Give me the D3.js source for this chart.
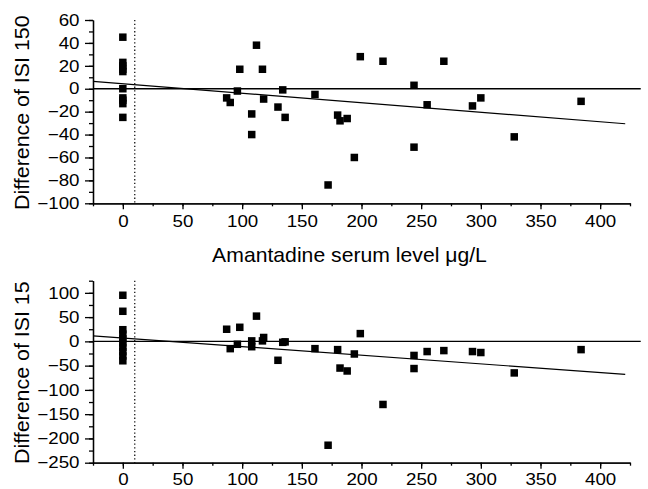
<!DOCTYPE html>
<html lang="en">
<head>
  <meta charset="UTF-8" />
  <title>ISI difference vs amantadine serum level</title>
  <style>
    body {
      margin: 0;
      background: #fff;
      font-family: 'Liberation Sans', Arial, sans-serif;
    }
    svg { display: block; }
    .axis path, .axis line { stroke: #000; stroke-width: 1.3; }
    .axis text { font-family: 'Liberation Sans', Arial, sans-serif; font-size: 16.3px; fill: #000; }
    .title { font-size: 20px; fill: #000; }
  </style>
</head>
<body>
  <svg id="chart" width="648" height="489"></svg>

  <script src="https://d3js.org/d3.v7.min.js"></script>
  <script>
    // serum level (x) shared by both panels, μg/L
    const serumLevel = [0, 0, 0, 0, 0, 0, 0, 0, 0, 0,
      87, 90, 96, 98, 108, 108, 112, 117, 118, 130, 134, 136, 161, 172,
      180, 182, 188, 194, 199, 218, 244, 244, 255, 269, 293, 300, 328, 384];

    // difference of ISI 150
    const isi150Diff = [45, 23, 20, 17, 15, 0, -8, -10, -13, -25,
      -8, -12, -2, 17, -22, -40, 38, 17, -9, -16, -1, -25, -5, -84,
      -23, -28, -26, -60, 28, 24, 3, -51, -14, 24, -15, -8, -42, -11];

    // difference of ISI 15
    const isi15Diff = [95, 62, 24, 15, 5, -3, -12, -21, -30, -40,
      25, -15, -6, 29, 1, -11, 52, 1, 8, -39, -2, -1, -15, -214,
      -17, -55, -61, -26, 16, -130, -29, -56, -21, -19, -21, -23, -65, -17];

    // regression lines: [intercept, slope]
    const fit150 = [4.4, -0.083];
    const fit15 = [7.0, -0.178];
    const fitRange = [-25, 421];

    const cutoffLevel = 10;   // dotted vertical line
    const xTicks = [0, 50, 100, 150, 200, 250, 300, 350, 400];
    const yTicks150 = [-100, -80, -60, -40, -20, 0, 20, 40, 60];
    const yTicks15 = [-250, -200, -150, -100, -50, 0, 50, 100];

    const svg = d3.select("#chart");
    const stretch = 1.15;   // the original lettering is a bit wide

    const x = d3.scaleLinear().domain([-25, 425]).range([93, 630]);

    const panels = [
      { values: isi150Diff, fit: fit150, label: "Difference of ISI 150",
        domain: [-100, 60], range: [203.3, 20], ticks: yTicks150, minorStep: 10, pad: 6 },
      { values: isi15Diff, fit: fit15, label: "Difference of ISI 15",
        domain: [-250, 125], range: [462.7, 280.7], ticks: yTicks15, minorStep: 25, pad: 5 }
    ];

    const xMinor = d3.range(-25, 426, 25);

    panels.forEach(p => {
      const y = d3.scaleLinear().domain(p.domain).range(p.range);
      const g = svg.append("g");
      const yBottom = p.range[0];

      // minor ticks first, then the major axis on top
      g.append("g")
        .attr("class", "axis")
        .attr("transform", `translate(0,${yBottom})`)
        .call(d3.axisBottom(x).tickValues(xMinor).tickSize(3).tickSizeOuter(0).tickFormat(""));
      g.append("g")
        .attr("class", "axis")
        .attr("transform", `translate(0,${yBottom})`)
        .call(d3.axisBottom(x).tickValues(xTicks).tickSize(6).tickPadding(p.pad).tickSizeOuter(0))
        .selectAll("text")
        .attr("transform", `scale(${stretch},1)`);

      const yMinor = d3.range(p.domain[0], p.domain[1] + 0.1, p.minorStep);
      g.append("g")
        .attr("class", "axis")
        .attr("transform", `translate(${x(-25)},0)`)
        .call(d3.axisLeft(y).tickValues(yMinor).tickSize(4).tickSizeOuter(0).tickFormat(""));
      g.append("g")
        .attr("class", "axis")
        .attr("transform", `translate(${x(-25)},0)`)
        .call(d3.axisLeft(y).tickValues(p.ticks).tickSize(8).tickPadding(5).tickSizeOuter(0))
        .selectAll("text")
        .attr("x", -13.5 / stretch)
        .attr("transform", `scale(${stretch},1)`);

      // zero reference line
      g.append("line")
        .attr("x1", x(-25)).attr("x2", x(434))
        .attr("y1", y(0)).attr("y2", y(0))
        .attr("stroke", "#000").attr("stroke-width", 1.3);

      // dotted cutoff line
      g.append("line")
        .attr("x1", x(cutoffLevel)).attr("x2", x(cutoffLevel))
        .attr("y1", p.range[1]).attr("y2", yBottom)
        .attr("stroke", "#000").attr("stroke-width", 1.2)
        .attr("stroke-dasharray", "1.3,2.4");

      // regression line
      g.append("line")
        .attr("x1", x(fitRange[0])).attr("x2", x(fitRange[1]))
        .attr("y1", y(p.fit[0] + p.fit[1] * fitRange[0]))
        .attr("y2", y(p.fit[0] + p.fit[1] * fitRange[1]))
        .attr("stroke", "#000").attr("stroke-width", 1.2);

      // data squares
      const s = 7.5;
      g.selectAll("rect.pt")
        .data(serumLevel.map((v, i) => [v, p.values[i]]))
        .join("rect")
        .attr("class", "pt")
        .attr("x", d => x(d[0]) - s / 2)
        .attr("y", d => y(d[1]) - s / 2)
        .attr("width", s)
        .attr("height", s)
        .attr("fill", "#000");

      // y label
      g.append("text")
        .attr("class", "title")
        .attr("text-anchor", "middle")
        .attr("transform", `translate(29,${(p.range[0] + p.range[1]) / 2 + 1}) rotate(-90) scale(1.07,1)`)
        .text(p.label);
    });

    // shared x title between the panels
    svg.append("text")
      .attr("class", "title")
      .attr("text-anchor", "middle")
      .attr("transform", "translate(349.5,261.7) scale(1.06,1)")
      .text("Amantadine serum level μg/L");
  </script>
</body>
</html>
